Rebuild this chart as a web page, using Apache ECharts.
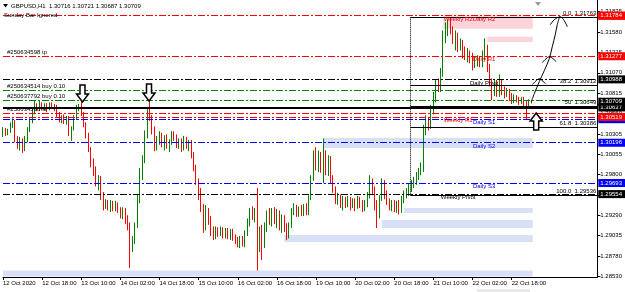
<!DOCTYPE html>
<html>
<head>
<meta charset="utf-8">
<title>GBPUSD H1</title>
<script src="https://cdn.jsdelivr.net/npm/echarts@6/dist/echarts.min.js"></script>
<style>
  html, body { margin: 0; padding: 0; background: #fff; }
  #main { width: 625px; height: 292px; }
</style>
</head>
<body>
<div id="main"></div>
<script>
// hourly bars, weekend hours skipped; bar 0 = 12 Oct 00:00
const firstBar = 2;
// [open, close, low, high]
const ohlc = [
  [1.3030,1.3035,1.3027,1.3039],[1.3035,1.3032,1.3028,1.3038],[1.3032,1.3034,1.3029,1.3037],[1.3034,1.3040,1.3032,1.3045],
  [1.3040,1.3045,1.3038,1.3050],[1.3045,1.3023,1.3020,1.3048],[1.3023,1.3015,1.3012,1.3028],[1.3015,1.3023,1.3010,1.3027],
  [1.3023,1.3013,1.3007,1.3025],[1.3013,1.3023,1.3009,1.3028],[1.3023,1.3035,1.3020,1.3039],[1.3035,1.3047,1.3033,1.3050],
  [1.3047,1.3058,1.3044,1.3063],[1.3058,1.3065,1.3055,1.3073],[1.3065,1.3062,1.3059,1.3069],[1.3062,1.3068,1.3059,1.3072],
  [1.3068,1.3063,1.3060,1.3070],[1.3063,1.3067,1.3060,1.3069],[1.3067,1.3063,1.3058,1.3069],[1.3063,1.3068,1.3060,1.3070],
  [1.3068,1.3065,1.3062,1.3070],[1.3065,1.3063,1.3059,1.3068],[1.3063,1.3054,1.3052,1.3067],[1.3054,1.3048,1.3045,1.3058],
  [1.3048,1.3052,1.3044,1.3054],[1.3052,1.3047,1.3043,1.3055],[1.3047,1.3050,1.3042,1.3053],[1.3050,1.3032,1.3028,1.3053],
  [1.3032,1.3038,1.3022,1.3040],[1.3038,1.3050,1.3035,1.3054],[1.3050,1.3063,1.3048,1.3067],[1.3063,1.3065,1.3059,1.3068],
  [1.3065,1.3055,1.3053,1.3073],[1.3055,1.3042,1.3039,1.3058],[1.3042,1.3028,1.3025,1.3045],[1.3028,1.3010,1.3008,1.3032],
  [1.3010,1.2995,1.2989,1.3014],[1.2995,1.2985,1.2978,1.3000],[1.2985,1.2970,1.2965,1.2990],[1.2970,1.2975,1.2960,1.2979],
  [1.2975,1.2954,1.2948,1.2978],[1.2954,1.2940,1.2935,1.2958],[1.2940,1.2945,1.2937,1.2949],[1.2945,1.2940,1.2935,1.2948],
  [1.2940,1.2944,1.2933,1.2948],[1.2944,1.2938,1.2934,1.2947],[1.2938,1.2943,1.2934,1.2947],[1.2943,1.2934,1.2932,1.2945],
  [1.2934,1.2930,1.2925,1.2939],[1.2930,1.2935,1.2924,1.2939],[1.2935,1.2923,1.2918,1.2938],[1.2923,1.2915,1.2910,1.2929],
  [1.2915,1.2888,1.2863,1.2920],[1.2888,1.2898,1.2883,1.2903],[1.2898,1.2917,1.2893,1.2920],[1.2917,1.2948,1.2913,1.2954],
  [1.2948,1.2979,1.2944,1.2988],[1.2979,1.2998,1.2973,1.3004],[1.2998,1.3029,1.2994,1.3035],[1.3029,1.3058,1.3025,1.3063],
  [1.3058,1.3050,1.3047,1.3073],[1.3050,1.3035,1.3030,1.3054],[1.3035,1.3013,1.3009,1.3040],[1.3013,1.3023,1.3010,1.3028],
  [1.3023,1.3029,1.3017,1.3034],[1.3029,1.3018,1.3014,1.3032],[1.3018,1.3025,1.3010,1.3029],[1.3025,1.3015,1.3012,1.3030],
  [1.3015,1.3020,1.3008,1.3024],[1.3020,1.3030,1.3017,1.3034],[1.3030,1.3025,1.3022,1.3034],[1.3025,1.3017,1.3013,1.3030],
  [1.3017,1.3022,1.3012,1.3025],[1.3022,1.3014,1.3008,1.3025],[1.3014,1.3023,1.3010,1.3028],[1.3023,1.3015,1.3012,1.3027],
  [1.3015,1.3020,1.3009,1.3023],[1.3020,1.3004,1.3000,1.3023],[1.3004,1.2988,1.2984,1.3008],[1.2988,1.2973,1.2967,1.2992],
  [1.2973,1.2954,1.2948,1.2975],[1.2954,1.2938,1.2933,1.2963],[1.2938,1.2915,1.2907,1.2943],[1.2915,1.2933,1.2910,1.2942],
  [1.2933,1.2923,1.2917,1.2938],[1.2923,1.2908,1.2903,1.2928],[1.2908,1.2903,1.2898,1.2915],[1.2903,1.2910,1.2899,1.2915],
  [1.2910,1.2907,1.2902,1.2914],[1.2907,1.2912,1.2903,1.2915],[1.2912,1.2905,1.2900,1.2914],[1.2905,1.2909,1.2900,1.2913],
  [1.2909,1.2903,1.2899,1.2913],[1.2903,1.2908,1.2898,1.2912],[1.2908,1.2902,1.2897,1.2912],[1.2902,1.2898,1.2893,1.2905],
  [1.2898,1.2894,1.2889,1.2902],[1.2894,1.2899,1.2888,1.2903],[1.2899,1.2894,1.2890,1.2903],[1.2894,1.2907,1.2889,1.2910],
  [1.2907,1.2920,1.2903,1.2925],[1.2920,1.2932,1.2915,1.2938],[1.2932,1.2928,1.2923,1.2940],[1.2928,1.2933,1.2920,1.2938],
  [1.2933,1.2898,1.2860,1.2963],[1.2898,1.2910,1.2883,1.2915],[1.2910,1.2892,1.2873,1.2917],[1.2892,1.2913,1.2888,1.2920],
  [1.2913,1.2929,1.2908,1.2935],[1.2929,1.2922,1.2917,1.2938],[1.2922,1.2933,1.2915,1.2938],[1.2933,1.2925,1.2918,1.2939],
  [1.2925,1.2932,1.2913,1.2937],[1.2932,1.2920,1.2910,1.2935],[1.2920,1.2925,1.2907,1.2930],[1.2925,1.2913,1.2908,1.2929],
  [1.2913,1.2904,1.2898,1.2919],[1.2904,1.2917,1.2900,1.2920],[1.2917,1.2933,1.2913,1.2938],[1.2933,1.2938,1.2929,1.2944],
  [1.2938,1.2930,1.2927,1.2942],[1.2930,1.2937,1.2927,1.2940],[1.2937,1.2932,1.2928,1.2942],[1.2932,1.2938,1.2928,1.2943],
  [1.2938,1.2933,1.2929,1.2944],[1.2933,1.2950,1.2929,1.2954],[1.2950,1.2975,1.2948,1.2979],[1.2975,1.3000,1.2972,1.3010],
  [1.3000,1.2992,1.2985,1.3014],[1.2992,1.3004,1.2983,1.3010],[1.3004,1.2988,1.2982,1.3008],[1.2988,1.3007,1.2969,1.3025],
  [1.3007,1.2985,1.2979,1.3010],[1.2985,1.2998,1.2978,1.3004],[1.2998,1.2975,1.2969,1.3003],[1.2975,1.2960,1.2957,1.2979],
  [1.2960,1.2948,1.2943,1.2965],[1.2948,1.2953,1.2942,1.2957],[1.2953,1.2942,1.2938,1.2955],[1.2942,1.2948,1.2935,1.2953],
  [1.2948,1.2943,1.2938,1.2952],[1.2943,1.2949,1.2939,1.2953],[1.2949,1.2942,1.2935,1.2952],[1.2942,1.2947,1.2938,1.2950],
  [1.2947,1.2940,1.2934,1.2950],[1.2940,1.2948,1.2937,1.2953],[1.2948,1.2943,1.2938,1.2952],[1.2943,1.2938,1.2933,1.2948],
  [1.2938,1.2944,1.2934,1.2948],[1.2944,1.2954,1.2939,1.2958],[1.2954,1.2970,1.2950,1.2979],[1.2970,1.2960,1.2955,1.2975],
  [1.2960,1.2942,1.2935,1.2965],[1.2942,1.2929,1.2913,1.2948],[1.2929,1.2950,1.2925,1.2954],[1.2950,1.2970,1.2947,1.2975],
  [1.2970,1.2954,1.2949,1.2973],[1.2954,1.2945,1.2942,1.2960],[1.2945,1.2940,1.2935,1.2950],[1.2940,1.2944,1.2934,1.2948],
  [1.2944,1.2938,1.2933,1.2948],[1.2938,1.2943,1.2932,1.2947],[1.2943,1.2935,1.2930,1.2948],[1.2935,1.2948,1.2932,1.2953],
  [1.2948,1.2954,1.2944,1.2960],[1.2954,1.2958,1.2950,1.2963],[1.2958,1.2963,1.2953,1.2968],[1.2963,1.2967,1.2958,1.2973],
  [1.2967,1.2972,1.2963,1.2977],[1.2972,1.2978,1.2967,1.2983],[1.2978,1.2983,1.2973,1.2988],[1.2983,1.2988,1.2979,1.2995],
  [1.2988,1.3035,1.2983,1.3042],[1.3035,1.3045,1.3029,1.3054],[1.3045,1.3040,1.3035,1.3052],[1.3040,1.3060,1.3037,1.3067],
  [1.3060,1.3075,1.3055,1.3083],[1.3075,1.3092,1.3070,1.3098],[1.3092,1.3088,1.3083,1.3100],[1.3088,1.3108,1.3083,1.3113],
  [1.3108,1.3154,1.3102,1.3160],[1.3154,1.3163,1.3144,1.3170],[1.3163,1.3168,1.3153,1.3174],[1.3168,1.3160,1.3155,1.3176],
  [1.3160,1.3148,1.3143,1.3165],[1.3148,1.3153,1.3135,1.3160],[1.3153,1.3140,1.3133,1.3157],[1.3140,1.3145,1.3135,1.3150],
  [1.3145,1.3133,1.3125,1.3148],[1.3133,1.3129,1.3123,1.3140],[1.3129,1.3133,1.3120,1.3138],[1.3133,1.3125,1.3119,1.3135],
  [1.3125,1.3115,1.3110,1.3132],[1.3115,1.3123,1.3113,1.3127],[1.3123,1.3125,1.3115,1.3129],[1.3125,1.3118,1.3114,1.3128],
  [1.3118,1.3129,1.3114,1.3135],[1.3129,1.3138,1.3123,1.3150],[1.3138,1.3113,1.3108,1.3142],[1.3113,1.3095,1.3090,1.3118],
  [1.3095,1.3083,1.3073,1.3100],[1.3083,1.3092,1.3078,1.3098],[1.3092,1.3085,1.3077,1.3098],[1.3085,1.3093,1.3077,1.3105],
  [1.3093,1.3085,1.3079,1.3098],[1.3085,1.3080,1.3075,1.3090],[1.3080,1.3083,1.3077,1.3088],[1.3083,1.3077,1.3072,1.3087],
  [1.3077,1.3073,1.3068,1.3082],[1.3073,1.3077,1.3069,1.3080],[1.3077,1.3074,1.3070,1.3079],[1.3074,1.3070,1.3067,1.3077],
  [1.3070,1.3074,1.3068,1.3077],[1.3074,1.3068,1.3064,1.3077],[1.3068,1.3067,1.3048,1.3073],[1.3067,1.3070,1.3065,1.3074],
  [1.30716,1.30709,1.30687,1.30721]
];

const timeTickBars = [2, 18, 34, 50, 66, 82, 98, 114, 130, 146, 162, 178, 194, 210];
const timeTickLabels = ['12 Oct 2020', '12 Oct 18:00', '13 Oct 10:00', '14 Oct 02:00', '14 Oct 18:00',
  '15 Oct 10:00', '16 Oct 02:00', '16 Oct 18:00', '19 Oct 10:00', '20 Oct 02:00', '20 Oct 18:00',
  '21 Oct 10:00', '22 Oct 02:00', '22 Oct 18:00'];
const priceTicks = [1.31835, 1.31580, 1.31325, 1.31070, 1.30815, 1.30560, 1.30305, 1.30055,
  1.29800, 1.29545, 1.29290, 1.29035, 1.28780, 1.28530];

const dailyPivotNames = ['Daily R2', 'Daily R1', 'Daily Pivot', 'Daily S1', 'Daily S2', 'Daily S3'];
const dailyPivotPrices = [1.31784, 1.31277, 1.30988, 1.30490, 1.30196, 1.29693];
const weeklyPivotNames = ['Weekly R2', 'Weekly R1', 'Weekly Pivot'];
const weeklyPivotPrices = [1.31784, 1.30519, 1.29554];

const orderNames = ['#250634598 tp', '#250634514 buy 0.10', '#250637792 buy 0.10', '#250634598 sl'];
const orderPrices = [1.31277, 1.30855, 1.30732, 1.30560];
const userLinePrice = 1.30637;

const fibLevels = ['0.0', '38.2', '50', '61.8', '100.0'];
const fibPrices = [1.31763, 1.30912, 1.30649, 1.30386, 1.29536];
const fibStartBar = 168.6;

const zoneKinds = ['supply', 'supply', 'demand', 'demand', 'demand', 'demand', 'demand'];
const zoneTops = [1.3179, 1.3152, 1.30255, 1.2938, 1.2923, 1.29043, 1.2860];
const zoneBottoms = [1.3162, 1.31455, 1.3013, 1.29318, 1.2913, 1.28955, 1.28525];
const zoneStartBars = [182, 200, 133, 166, 157, 117, 2];
const zoneEndBar = 218.6;

// ---------------------------------------------------------------
const FONT = '"Liberation Sans", Arial, sans-serif';
const RED = '#ff0000', BLUE = '#0000ff', BLACK = '#000000', GREEN = '#008000';
const xMin = 2, xMax = 245;
const yMin = 1.28518, yMax = 1.3198;
const DASHDOT = [7, 2, 2, 2];

const candleData = ohlc.map((r, i) => [firstBar + i, r[0], r[1], r[2], r[3]]);
const last = ohlc[ohlc.length - 1];
const lastBar = firstBar + ohlc.length - 1;

function pivotColor(name) {
  if (/Pivot/.test(name)) return BLACK;
  return /R\d/.test(name) ? RED : BLUE;
}

function boxLabel(color) {
  return {
    show: true, position: 'end', distance: 1,
    formatter: p => Number(p.value).toFixed(5),
    color: '#fff', backgroundColor: color, padding: [1, 4, 1, 2],
    fontSize: 6, fontFamily: FONT
  };
}

const lines = [];
// order lines (no axis box)
orderNames.forEach((n, i) => {
  const c = /buy/.test(n) ? GREEN : RED;
  lines.push({
    yAxis: orderPrices[i],
    lineStyle: { color: c, type: DASHDOT, width: 1 },
    label: { show: true, position: 'insideStartTop', distance: [4, 1], formatter: n,
      color: BLACK, fontSize: 6, fontFamily: FONT }
  });
});
// blue first so red boxes sit on top
const pivots = [];
dailyPivotNames.forEach((n, i) => pivots.push([n, dailyPivotPrices[i]]));
weeklyPivotNames.forEach((n, i) => pivots.push([n, weeklyPivotPrices[i]]));
pivots.sort((a, b) => (pivotColor(a[0]) === BLUE ? -1 : 0) - (pivotColor(b[0]) === BLUE ? -1 : 0));
pivots.forEach(([n, p]) => {
  const c = pivotColor(n);
  lines.push({ yAxis: p, lineStyle: { color: c, type: DASHDOT, width: 1 }, label: boxLabel(c) });
});
lines.push({ yAxis: userLinePrice, lineStyle: { color: BLACK, type: 'solid', width: 2 }, label: boxLabel(BLACK) });
lines.push({ yAxis: last[1], lineStyle: { color: 'rgba(0,0,0,0)', width: 0 }, label: boxLabel(BLACK) });
// fibo
fibPrices.forEach((p, i) => {
  lines.push([
    { coord: [fibStartBar, p], lineStyle: { color: BLACK, type: 'solid', width: 1 },
      label: { show: true, position: 'insideEndTop', distance: [1, 1],
        formatter: fibLevels[i] + '  ' + p.toFixed(5), color: BLACK, fontSize: 6, fontFamily: FONT } },
    { coord: [xMax, p] }
  ]);
});
lines.push([
  { coord: [fibStartBar, fibPrices[0]], lineStyle: { color: BLACK, type: 'dotted', width: 1 }, label: { show: false } },
  { coord: [fibStartBar, fibPrices[fibPrices.length - 1]] }
]);

const zones = zoneKinds.map((k, i) => [
  { coord: [zoneStartBars[i], zoneTops[i]], itemStyle: { color: k === 'supply' ? '#ffd3da' : '#d7e0f7' } },
  { coord: [zoneEndBar, zoneBottoms[i]] }
]);

const option = {
  animation: false,
  backgroundColor: '#ffffff',
  grid: { left: 0, right: 27, top: 0, bottom: 15 },
  xAxis: {
    type: 'value', min: xMin, max: xMax,
    axisLine: { lineStyle: { color: BLACK, width: 1 } },
    axisTick: { show: true, customValues: timeTickBars, length: 3, lineStyle: { color: BLACK } },
    axisLabel: {
      customValues: timeTickBars, align: 'left', margin: 3,
      formatter: v => timeTickLabels[timeTickBars.indexOf(v)] || '',
      fontSize: 6, fontFamily: FONT, color: BLACK
    },
    splitLine: { show: false }
  },
  yAxis: {
    type: 'value', position: 'right', min: yMin, max: yMax,
    axisLine: { show: true, lineStyle: { color: BLACK, width: 1 } },
    axisTick: { show: true, customValues: priceTicks, length: 3, lineStyle: { color: BLACK } },
    axisLabel: {
      customValues: priceTicks, margin: 3,
      formatter: v => v.toFixed(5), fontSize: 6, fontFamily: FONT, color: BLACK
    },
    splitLine: { show: false }
  },
  series: [
    {
      name: 'zones', type: 'line', data: [], z: 1, silent: true,
      markArea: { silent: true, data: zones }
    },
    {
      name: 'GBPUSD', type: 'candlestick', z: 2, barWidth: 1,
      data: candleData,
      itemStyle: { color: GREEN, color0: RED, borderColor: GREEN, borderColor0: RED, borderWidth: 1 }
    },
    {
      name: 'levels', type: 'line', data: [], z: 3, silent: true, clip: false,
      markLine: { silent: true, precision: 5, symbol: ['none', 'none'], animation: false, data: lines }
    }
  ]
};

const chart = echarts.init(document.getElementById('main'), null, { renderer: 'canvas' });
chart.setOption(option);

const px = (bar, price) => chart.convertToPixel({ gridIndex: 0 }, [bar, price]);
const g = [];
const txt = (text, x, y, color, align, vAlign, size) => ({
  type: 'text', z: 100, x, y,
  style: { text, fill: color, font: (size || 6) + 'px ' + FONT, align: align || 'left', verticalAlign: vAlign || 'top' }
});

// header
g.push({ type: 'polygon', z: 100, shape: { points: [[3, 4], [8, 4], [5.5, 7.5]] }, style: { fill: BLACK } });
g.push(txt('GBPUSD,H1  ' + [last[0], last[3], last[2], last[1]].map(v => v.toFixed(5)).join(' '), 11, 3, BLACK));
g.push(txt('Sunday Bar Ignored', 4, 12, BLACK));

// pivot names under their lines
const dailyLabelBar = 198.7, weeklyLabelBar = 188.1;
dailyPivotNames.forEach((n, i) => {
  const p = px(dailyLabelBar, dailyPivotPrices[i]);
  g.push(txt(n, p[0], p[1] + 0.5, pivotColor(n), 'center', 'top'));
});
weeklyPivotNames.forEach((n, i) => {
  const p = px(weeklyLabelBar, weeklyPivotPrices[i]);
  g.push(txt(n, p[0], p[1] + 0.5, pivotColor(n), 'center', 'top'));
});

// block arrows: tip at the given point, body behind it
function blockArrow(tip, dir) {
  const s = dir === 'down' ? -1 : 1;
  const pts = [[-2.5, 17], [2.5, 17], [2.5, 8], [6, 8], [0, 0], [-6, 8], [-2.5, 8]]
    .map(([dx, dy]) => [tip[0] + dx, tip[1] + s * dy]);
  return { type: 'polygon', z: 101, shape: { points: pts }, style: { fill: '#fff', stroke: BLACK, lineWidth: 1.5 } };
}
const arrowMarks = [[34.5, 1.30705, 'down'], [61.7, 1.30718, 'down'], [220, 1.30568, 'up']];
arrowMarks.forEach(([b, p, d]) => g.push(blockArrow(px(b, p), d)));

// hand-drawn projection arrow from last bar
const a = px(lastBar, last[1]);
const sketch = [
  [[0, 0], [3, -8], [8, -20], [13, -31], [18, -43], [21, -55], [24, -67], [26, -77], [28, -84]],
  [[1, -17], [8, -23], [14, -18]],
  [[11, -39], [18, -45], [25, -40]],
  [[19, -77], [23, -82], [29, -85], [33, -81], [36, -75]]
];
sketch.forEach(line => g.push({
  type: 'polyline', z: 102,
  shape: { points: line.map(([dx, dy]) => [a[0] + dx, a[1] + dy]), smooth: 0.3 },
  style: { stroke: BLACK, lineWidth: 1, fill: null }
}));

// chart shift marker and scroll strip
g.push({ type: 'polygon', z: 100, shape: { points: [[535, 2], [541, 2], [538, 6]] }, style: { fill: '#9a9a9a' } });
g.push({ type: 'rect', z: 100, shape: { x: 477, y: 289, width: 53, height: 3 }, style: { fill: '#e9e9e9' } });

chart.setOption({ graphic: g });
</script>
</body>
</html>
